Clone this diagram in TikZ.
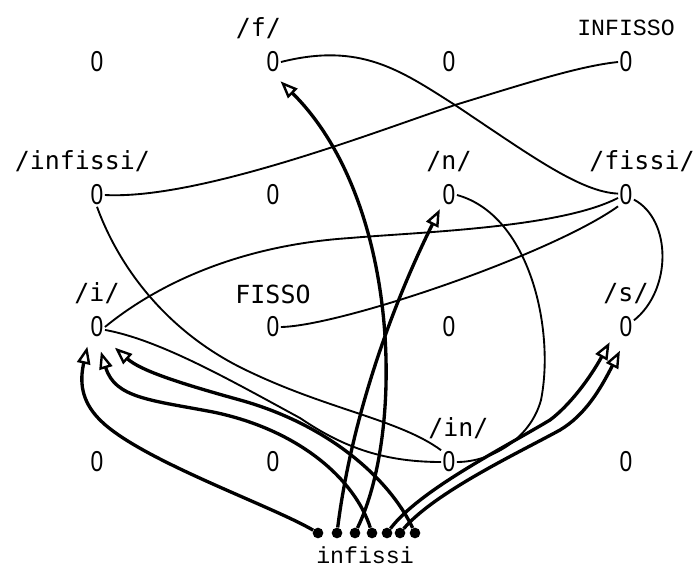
\documentclass[tikz,border=0pt]{standalone}
\usepackage{fontspec}
\usepackage{tikz}
\usetikzlibrary{positioning, arrows.meta}
\newfontfamily\gothic{DejaVu Sans Mono}
\newfontfamily\plain{Liberation Sans}
\newfontfamily\courier{Liberation Mono}
\newcommand{\nil}{\scalebox{0.95}[1.2]{0}}

\begin{document}
\begin{tikzpicture}[
            x=0.75pt, y=-0.75pt,
            zero/.style={inner sep=1pt, font=\plain\fontsize{18}{20}\selectfont},
            lbl/.style={inner sep=1pt, label distance=7pt, font=\gothic\fontsize{18.7}{20}\selectfont},
            typed/.style={inner sep=1pt, font=\courier\fontsize{17.4}{19}\selectfont},
            dot/.style={circle, fill, inner sep=0pt, minimum size=8pt},
            link/.style={line width=1.4pt},
            arr/.style={line width=2.5pt, -{Triangle[fill=white, length=13pt, width=10pt, line width=1.8pt]}},
        ]
            \useasboundingbox (0,0) rectangle (697,569);

            % first row
            \node[zero] (a1) at (97,62) {\nil};
            \node[zero, label={[lbl, xshift=-11pt]above:/f/}] (f) at (273,62) {\nil};
            \node[zero] (a3) at (449,62) {\nil};
            \node[zero, label={[typed, label distance=10pt]above:INFISSO}] (infisso) at (626,62) {\nil};

            % second row
            \node[zero, label={[lbl, xshift=-11pt]above:/infissi/}] (infissi) at (97,195) {\nil};
            \node[zero] (b2) at (273,195) {\nil};
            \node[zero, label={[lbl]above:/n/}] (n) at (449,195) {\nil};
            \node[zero, label={[lbl, xshift=12pt]above:/fissi/}] (fissi) at (626,195) {\nil};

            % third row
            \node[zero, label={[lbl]above:/i/}] (i) at (97,327) {\nil};
            \node[zero, label={[lbl]above:FISSO}] (fisso) at (273,327) {\nil};
            \node[zero] (c3) at (449,327) {\nil};
            \node[zero, label={[lbl]above:/s/}] (s) at (626,327) {\nil};

            % fourth row
            \node[zero] (e1) at (97,462) {\nil};
            \node[zero] (e2) at (273,462) {\nil};
            \node[zero, label={[lbl, xshift=7pt]above:/in/}] (in) at (449,462) {\nil};
            \node[zero] (e4) at (626,462) {\nil};

            % the word and its letters
            \foreach \x [count=\k] in {318,337,355,372,387,400,415}
                \node[dot] (d\k) at (\x,533) {};
            \node[typed] (word) at (365,555) {infissi};

            % thin links between the states
            \draw[link] (f.east) .. controls (360,42) and (400,70) .. (455,105)
                .. controls (530,155) and (580,192) .. (fissi.170);
            \draw[link] (infissi.east) .. controls (200,200) and (380,130) .. (455,105)
                .. controls (530,82) and (580,66) .. (infisso.west);
            \draw[link] (fissi.200) .. controls (560,228) and (420,232) .. (350,238)
                .. controls (230,246) and (150,290) .. (i.east);
            \draw[link] (fisso.east) .. controls (340,326) and (550,255) .. (fissi.235);
            \draw[link] (fissi.-30) .. controls (672,220) and (672,290) .. (s.40);
            \draw[link] (n.east) .. controls (530,215) and (555,330) .. (541,400)
                .. controls (530,440) and (490,462) .. (in.east);
            \draw[link] (infissi.south) .. controls (120,270) and (170,335) .. (250,372)
                .. controls (330,410) and (400,420) .. (in.north west);
            \draw[link] (i.-20) .. controls (160,340) and (230,380) .. (300,418)
                .. controls (340,445) and (380,462) .. (in.west);

            % thick arrows from the letters
            \draw[arr, shorten >=6pt] (d1) .. controls (270,505) and (140,460) .. (100,420)
                .. controls (80,400) and (80,380) .. (i.south west);
            \draw[arr, shorten >=2pt] (d2) .. controls (350,430) and (385,320) .. (n.south west);
            \draw[arr, shorten >=8pt] (d3) .. controls (405,430) and (400,200) .. (f.south);
            \draw[arr, shorten >=10pt] (d4) .. controls (355,480) and (300,430) .. (213,412)
                .. controls (150,400) and (115,398) .. (i.south);
            \draw[arr, shorten >=13pt] (d5) .. controls (420,490) and (500,450) .. (550,420)
                .. controls (570,405) and (590,378) .. (s.west);
            \draw[arr, shorten >=10pt] (d6) .. controls (435,492) and (520,452) .. (560,430)
                .. controls (585,415) and (600,390) .. (s.south);
            \draw[arr, shorten >=10pt] (d7) .. controls (390,480) and (330,425) .. (240,400)
                .. controls (175,382) and (140,370) .. (i.south east);
        \end{tikzpicture}
\end{document}
